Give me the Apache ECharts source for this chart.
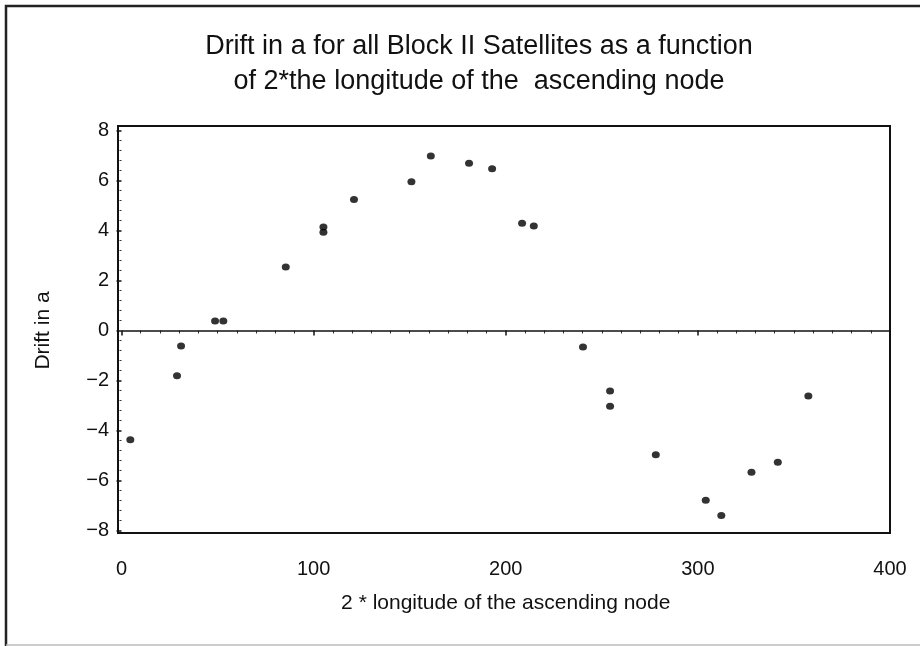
<!DOCTYPE html>
<html><head><meta charset="utf-8">
<script src="https://cdn.jsdelivr.net/npm/echarts@6/dist/echarts.min.js"></script>
<style>html,body{margin:0;padding:0;background:#fff}#c{width:920px;height:646px}</style>
</head><body><div id="c"></div>
<script>
const titleLines = ["Drift in a for all Block II Satellites as a function", "of 2*the longitude of the  ascending node"];
const xName = "2 * longitude of the ascending node";
const yName = "Drift in a";
const xNode = [4.6, 28.9, 31.0, 48.7, 53.0, 85.5, 105.1, 105.1, 121.0, 150.9, 161.0, 180.9, 192.9, 208.5, 214.6, 240.2, 254.3, 254.3, 278.1, 304.1, 312.2, 327.9, 341.6, 357.5];
const yDrift = [-4.37, -1.81, -0.62, 0.38, 0.38, 2.54, 4.14, 3.93, 5.24, 5.95, 6.98, 6.69, 6.47, 4.29, 4.18, -0.66, -2.42, -3.03, -4.97, -6.79, -7.40, -5.67, -5.27, -2.62];
const xTicks = [0, 400, 100];
const yTicks = [-8, 8, 2];

const FONT = '"Liberation Sans", Arial, Helvetica, sans-serif';
const chart = echarts.init(document.getElementById('c'), null, {renderer: 'canvas'});
const pts = xNode.map((x, i) => [x, yDrift[i]]);
chart.setOption({
  animation: false,
  backgroundColor: '#fff',
  title: {
    text: titleLines.join('\n'), left: 474, textAlign: 'center', top: 24,
    textStyle: {fontFamily: FONT, fontSize: 27, fontWeight: 'normal', color: '#111', lineHeight: 35}
  },
  graphic: [
    {type: 'polyline', shape: {points: [[6, 646], [6, 6], [920, 6]]}, style: {stroke: '#222', lineWidth: 2.5, fill: null}},
    {type: 'line', shape: {x1: 6, y1: 645, x2: 920, y2: 645}, style: {stroke: '#bbb', lineWidth: 1.5}}
  ],
  grid: [
    {left: 121.5, right: 30, top: 130.5, bottom: 115.5, show: false},
    {left: 118, right: 30, top: 126, bottom: 113, show: true, borderColor: '#111', borderWidth: 2, backgroundColor: 'transparent'}
  ],
  xAxis: [
    {type: 'value', gridIndex: 0, min: xTicks[0], max: xTicks[1], interval: xTicks[2], offset: 2.5,
     name: xName, nameLocation: 'middle', nameGap: 60,
     nameTextStyle: {fontFamily: FONT, fontSize: 21, color: '#111'},
     axisLine: {show: false}, splitLine: {show: false},
     axisTick: {show: true, inside: false, length: 5, lineStyle: {color: '#111', width: 1.5}},
     minorTick: {show: true, splitNumber: 10, length: 3, lineStyle: {color: '#333', width: 1}},
     axisLabel: {fontFamily: FONT, fontSize: 20, color: '#111', margin: 26}},
    {type: 'value', gridIndex: 1, min: 0, max: 1, show: false}
  ],
  yAxis: [
    {type: 'value', gridIndex: 0, min: yTicks[0], max: yTicks[1], interval: yTicks[2], offset: 3.5,
     name: yName, nameLocation: 'middle', nameGap: 64, nameRotate: 90,
     nameTextStyle: {fontFamily: FONT, fontSize: 21, color: '#111'},
     axisLine: {show: false}, splitLine: {show: false},
     axisTick: {show: true, inside: false, length: 5, lineStyle: {color: '#111', width: 1.5}},
     minorTick: {show: true, splitNumber: 5, length: 2, lineStyle: {color: '#333', width: 1}},
     axisLabel: {fontFamily: FONT, fontSize: 20, color: '#111', margin: 9,
       formatter: v => (v < 0 ? '\u2212' + Math.abs(v) : String(v))}},
    {type: 'value', gridIndex: 1, min: 0, max: 1, show: false}
  ],
  series: [{
    type: 'scatter', xAxisIndex: 0, yAxisIndex: 0, data: pts,
    symbol: 'circle', symbolSize: [8, 7],
    itemStyle: {color: '#000'},
    markLine: {silent: true, symbol: ['none', 'none'], label: {show: false},
      lineStyle: {color: '#111', width: 1.5, type: 'solid'},
      data: [{yAxis: 0}]}
  }]
});
</script></body></html>
